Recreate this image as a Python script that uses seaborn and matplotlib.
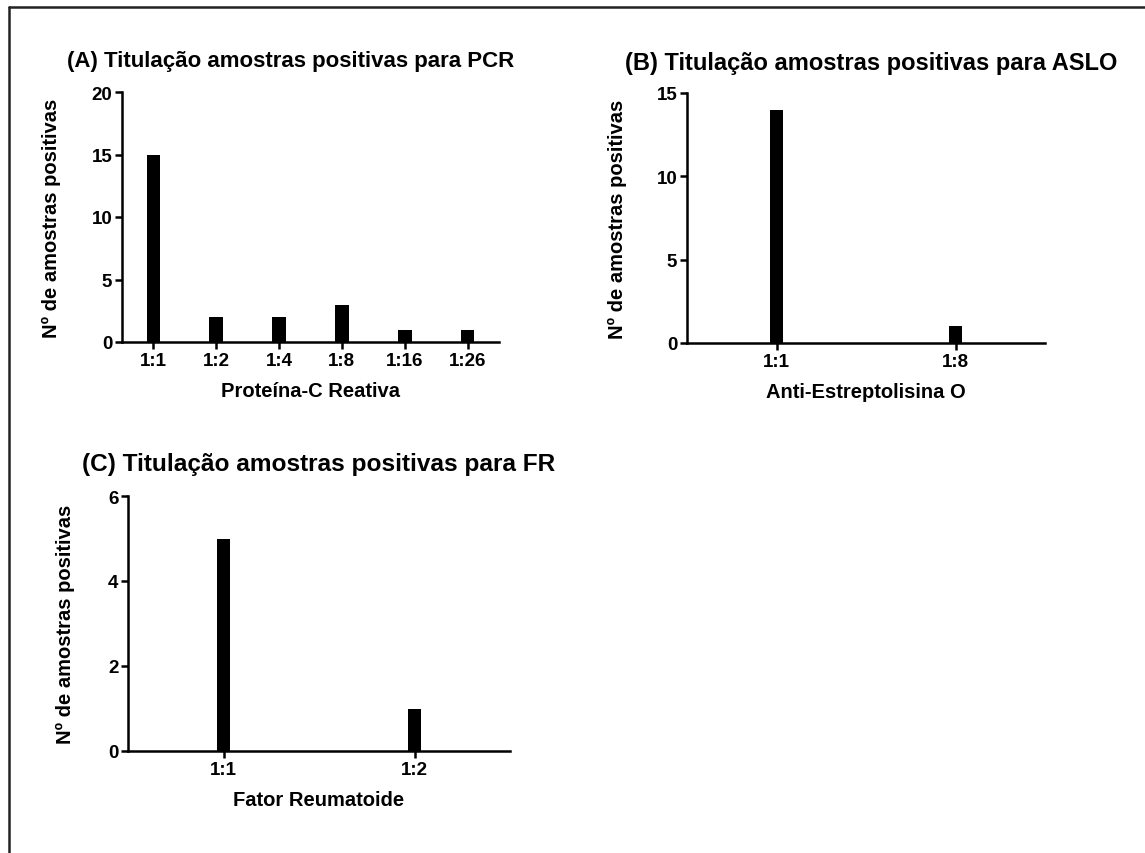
import matplotlib
matplotlib.use("Agg")
import matplotlib.pyplot as plt
import seaborn as sns
from matplotlib.lines import Line2D

sns.set_style("ticks")
plt.rcParams["font.family"] = ["Liberation Sans", "DejaVu Sans"]
plt.rcParams["font.weight"] = "bold"
plt.rcParams["text.color"] = "black"
plt.rcParams["axes.labelcolor"] = "black"
plt.rcParams["axes.edgecolor"] = "black"
plt.rcParams["xtick.color"] = "black"
plt.rcParams["ytick.color"] = "black"

# Dados
pcr_titulos = ["1:1", "1:2", "1:4", "1:8", "1:16", "1:26"]
pcr_valores = [15, 2, 2, 3, 1, 1]

aslo_titulos = ["1:1", "1:8"]
aslo_valores = [14, 1]

fr_titulos = ["1:1", "1:2"]
fr_valores = [5, 1]

fig = plt.figure(figsize=(11.45, 8.54), dpi=100)
W, H = 1145, 854


def painel(px_left, px_right, px_top, px_bottom):
    return fig.add_axes([px_left / W, 1 - px_bottom / H,
                         (px_right - px_left) / W, (px_bottom - px_top) / H])


def desenha(ax, cats, vals, largura, yticks, titulo, xlabel, tx, tpad, tsize, ypad):
    sns.barplot(x=cats, y=vals, color="black", saturation=1, width=largura,
                ax=ax, edgecolor="black", linewidth=0)
    ax.set_xlim(-0.5, len(cats) - 0.5)
    ax.set_ylim(0, yticks[-1])
    ax.set_yticks(yticks)
    ax.set_title(titulo, fontsize=tsize, fontweight="bold", pad=tpad, x=tx)
    ax.set_xlabel(xlabel, fontsize=14.5, fontweight="bold", labelpad=9)
    ax.set_ylabel("Nº de amostras positivas", fontsize=14.5, fontweight="bold", labelpad=ypad)
    sns.despine(ax=ax)
    for s in ["left", "bottom"]:
        ax.spines[s].set_linewidth(1.8)
    ax.tick_params(axis="both", width=1.8, length=5, labelsize=13.5, pad=2)
    for lab in ax.get_xticklabels() + ax.get_yticklabels():
        lab.set_fontweight("bold")


ax_a = painel(122, 499, 93, 343)
desenha(ax_a, pcr_titulos, pcr_valores, 0.22, [0, 5, 10, 15, 20],
        "(A) Titulação amostras positivas para PCR", "Proteína-C Reativa",
        0.446, 19, 16, 22)

ax_b = painel(687, 1045, 94, 344)
desenha(ax_b, aslo_titulos, aslo_valores, 0.07, [0, 5, 10, 15],
        "(B) Titulação amostras positivas para ASLO", "Anti-Estreptolisina O",
        0.514, 17, 17, 21)

ax_c = painel(128, 510, 497, 752)
desenha(ax_c, fr_titulos, fr_valores, 0.065, [0, 2, 4, 6],
        "(C) Titulação amostras positivas para FR", "Fator Reumatoide",
        0.5, 19, 17.6, 24)

# moldura (topo e esquerda)
fig.add_artist(Line2D([9 / W, 1], [1 - 8 / H, 1 - 8 / H], color="#222222", lw=1.8))
fig.add_artist(Line2D([9 / W, 9 / W], [0, 1 - 8 / H], color="#222222", lw=1.8))

fig.savefig("out.png", dpi=100)
